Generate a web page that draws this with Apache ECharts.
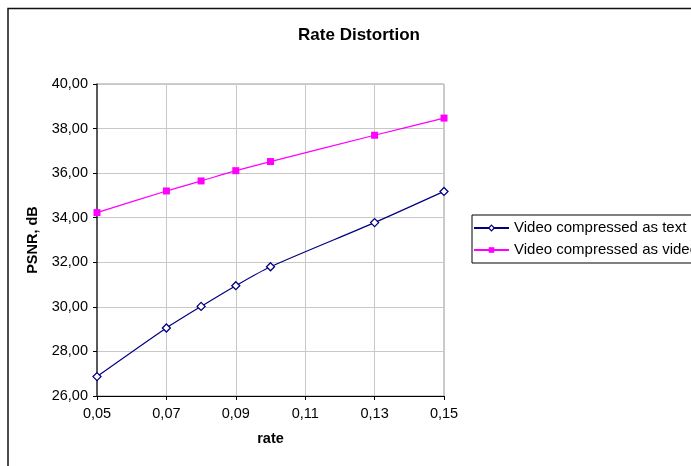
<!DOCTYPE html>
<html>
<head>
<meta charset="utf-8">
<script src="https://cdn.jsdelivr.net/npm/echarts@6/dist/echarts.min.js"></script>
<style>
  html, body { margin: 0; padding: 0; background: #fff; }
  #chart { width: 691px; height: 466px; }
</style>
</head>
<body>
<div id="chart"></div>
<script>
// Rate values (x) shared by both series
const rates = [0.05, 0.07, 0.08, 0.09, 0.10, 0.13, 0.15];
// PSNR in dB for each encoding
const psnrText = [26.87, 29.05, 30.02, 30.95, 31.80, 33.78, 35.18];
const psnrVideo = [34.23, 35.20, 35.65, 36.11, 36.52, 37.70, 38.47];
// Tick positions on the rate axis
const rateTicks = [0.05, 0.07, 0.09, 0.11, 0.13, 0.15];
const seriesNames = ['Video compressed as text', 'Video compressed as video'];

const pairs = (xs, ys) => xs.map((x, i) => [x, ys[i]]);
const comma = (v, d) => v.toFixed(d).replace('.', ',');

const font = 'Arial, "Liberation Sans", sans-serif';

const chart = echarts.init(document.getElementById('chart'), null, { renderer: 'canvas' });

chart.setOption({
  animation: false,
  backgroundColor: '#ffffff',
  textStyle: { fontFamily: font },
  title: {
    text: 'Rate Distortion',
    left: 354,
    textAlign: 'center',
    top: 22,
    textStyle: { fontSize: 17, fontWeight: 'bold', color: '#000', fontFamily: font }
  },
  grid: {
    left: 97, right: 247, top: 84, bottom: 70,
    show: true,
    borderColor: '#9a9a9a',
    borderWidth: 1,
    backgroundColor: '#ffffff'
  },
  legend: {
    orient: 'vertical',
    left: 472,
    top: 215,
    padding: [5, 6, 5, 1],
    itemGap: 6,
    itemWidth: 35,
    itemHeight: 7,
    borderColor: '#000',
    borderWidth: 1,
    borderRadius: 0,
    textStyle: { fontSize: 15, lineHeight: 16, color: '#000', fontFamily: font },
    data: [
      { name: seriesNames[0], itemStyle: { color: '#ffffff', borderColor: '#000080', borderWidth: 1.2 } },
      { name: seriesNames[1], itemStyle: { color: '#ff00ff', borderWidth: 0 } }
    ]
  },
  xAxis: {
    type: 'value',
    min: 0.05,
    max: 0.15,
    name: 'rate',
    nameLocation: 'middle',
    nameGap: 35,
    nameTextStyle: { fontSize: 14.5, fontWeight: 'bold', color: '#000', fontFamily: font },
    axisLine: { lineStyle: { color: '#000', width: 1 } },
    axisTick: { show: true, length: 4, inside: false, customValues: rateTicks, lineStyle: { color: '#000' } },
    axisLabel: {
      customValues: rateTicks,
      fontSize: 14.5, color: '#000', margin: 10, fontFamily: font,
      formatter: v => comma(v, 2)
    },
    splitLine: { show: true, lineStyle: { color: '#c8c8c8', width: 1 } }
  },
  yAxis: {
    type: 'value',
    min: 26,
    max: 40,
    interval: 2,
    name: 'PSNR, dB',
    nameLocation: 'middle',
    nameRotate: 90,
    nameGap: 57,
    nameTextStyle: { fontSize: 14.5, fontWeight: 'bold', color: '#000', fontFamily: font },
    axisLine: { show: true, lineStyle: { color: '#333', width: 1.5 } },
    axisTick: { show: true, length: 4, lineStyle: { color: '#000' } },
    axisLabel: {
      fontSize: 14.5, color: '#000', margin: 9, fontFamily: font,
      formatter: v => comma(v, 2)
    },
    splitLine: { show: true, lineStyle: { color: '#c8c8c8', width: 1 } }
  },
  series: [
    {
      name: seriesNames[0],
      type: 'line',
      data: pairs(rates, psnrText),
      smooth: 0.25,
      symbol: 'diamond',
      symbolSize: 8,
      color: '#000080',
      lineStyle: { color: '#000080', width: 1.2 },
      itemStyle: { color: '#ffffff', borderColor: '#000080', borderWidth: 1.3 },
      z: 3
    },
    {
      name: seriesNames[1],
      type: 'line',
      data: pairs(rates, psnrVideo),
      smooth: 0.25,
      symbol: 'rect',
      symbolSize: 7,
      color: '#ff00ff',
      lineStyle: { color: '#ff00ff', width: 1.2 },
      itemStyle: { color: '#ff00ff', borderColor: '#ff00ff', borderWidth: 0 },
      z: 3
    }
  ],
  graphic: [
    {
      type: 'rect',
      shape: { x: 8, y: 8.5, width: 720, height: 500 },
      style: { fill: null, stroke: '#111', lineWidth: 1.5 },
      silent: true,
      z: 100
    }
  ]
});
</script>
</body>
</html>
